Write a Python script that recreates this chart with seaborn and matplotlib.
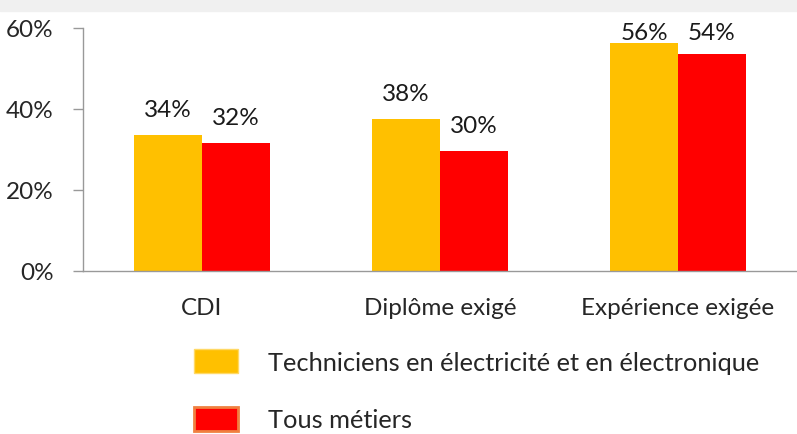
import numpy as np
import pandas as pd
import seaborn as sns
import matplotlib.pyplot as plt
from matplotlib.patches import Rectangle

categories = ['CDI', 'Diplôme exigé', 'Expérience exigée']
series = ['Techniciens en électricité et en électronique', 'Tous métiers']
techniciens = [33.6, 37.5, 56.3]
tous_metiers = [31.7, 29.6, 53.6]
yticks = [0, 20, 40, 60]

df = pd.DataFrame({
    'categorie': categories * 2,
    'serie': [series[0]] * 3 + [series[1]] * 3,
    'valeur': techniciens + tous_metiers,
})

sns.set_style('white')
plt.rcParams['font.family'] = ['Lato', 'DejaVu Sans']

fig = plt.figure(figsize=(7.97, 4.35), dpi=100)
fig.patches.append(Rectangle((0, 1 - 12 / 435), 1, 12 / 435, transform=fig.transFigure,
                             color='#f0f0f0', zorder=0))
ax = fig.add_axes([83 / 797, 1 - 272 / 435, 1 - 83 / 797, (272 - 29) / 435])

pal = {series[0]: '#ffc000', series[1]: '#ff0000'}
sns.barplot(data=df, x='categorie', y='valeur', hue='serie', palette=pal,
            width=0.57, gap=0, saturation=1, linewidth=0, ax=ax, legend=False)

# étiquettes de valeur
for cont in ax.containers:
    for bar in cont:
        h = bar.get_height()
        ax.text(bar.get_x() + bar.get_width() / 2, min(h + 6.3, 59.0), f'{h:.0f}%',
                ha='center', va='center', fontsize=17.5, color='#1a1a1a')

ax.set_ylim(0, 60)
ax.set_xlim(-0.5, 2.5)
ax.set_yticks(yticks)
ax.set_yticklabels([f'{t}%' for t in yticks], fontsize=17.5)
ax.set_xticks(range(3))
ax.set_xticklabels(categories, fontsize=17.5)
ax.set_xticks([0.5, 1.5], minor=True)
ax.tick_params(axis='x', which='major', length=0, pad=19)
ax.tick_params(axis='x', which='minor', length=7, color='#999999', width=1)
ax.tick_params(axis='y', length=7, color='#999999', width=1, pad=14, left=True)
ax.set_xlabel('')
ax.set_ylabel('')
for s in ['top', 'right']:
    ax.spines[s].set_visible(False)
for s in ['left', 'bottom']:
    ax.spines[s].set_color('#999999')
    ax.spines[s].set_linewidth(1)

handles = [Rectangle((0, 0), 1, 1, facecolor='#ffc000', edgecolor='#ffd966', lw=1),
           Rectangle((0, 0), 1, 1, facecolor='#ff0000', edgecolor='#f08040', lw=2)]
fig.legend(handles, series, loc='upper left', bbox_to_anchor=(171 / 797, 1 - 327 / 435),
           frameon=False, fontsize=18.3, handlelength=1.72, handleheight=1.08,
           handletextpad=1.18, labelspacing=1.3)

fig.savefig('out.png', dpi=100)
